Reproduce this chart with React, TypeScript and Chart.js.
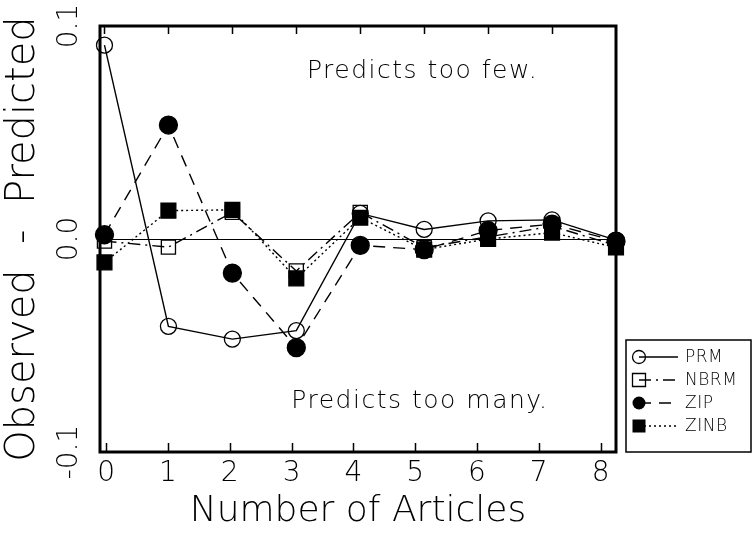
import React, { useEffect, useRef } from 'react';
import { Chart, registerables } from 'chart.js';

Chart.register(...registerables);

// ---- data ----
const articles = [0, 1, 2, 3, 4, 5, 6, 7, 8];
const tickLabels = ['0', '1', '2', '3', '4', '5', '6', '7', '8'];
const seriesNames = ['PRM', 'NBRM', 'ZIP', 'ZINB'];
const prm = [0.091, -0.041, -0.047, -0.043, 0.012, 0.0045, 0.0085, 0.009, -0.0005];
const nbrm = [-0.001, -0.0038, 0.0125, -0.015, 0.0125, -0.004, 0.001, 0.006, -0.003];
const zip = [0.002, 0.0535, -0.016, -0.051, -0.003, -0.005, 0.004, 0.007, -0.001];
const zinb = [-0.011, 0.0133, 0.0137, -0.0185, 0.01, -0.005, 0.0, 0.003, -0.004];
const yTicks = [-0.1, 0.0, 0.1];
const notes = ['Predicts too few.', 'Predicts too many.'];
const xTitle = 'Number of Articles';
const yTitle = 'Observed  -  Predicted';

const FAMILY = "'DejaVu Sans', 'Liberation Sans', sans-serif";
const WEIGHT = '200';

const framePlugin = {
  id: 'frame',
  beforeDatasetsDraw(chart: any) {
    const { ctx, chartArea: a, scales } = chart;
    ctx.save();
    ctx.strokeStyle = '#000';
    ctx.lineWidth = 3;
    ctx.strokeRect(a.left, a.top, a.right - a.left, a.bottom - a.top);
    // inner tick marks: bottom from the labelled axis, top from the data axis
    ctx.lineWidth = 1.5;
    ctx.beginPath();
    scales.x.ticks.forEach((t: any) => {
      const px = Math.round(scales.x.getPixelForValue(t.value)) + 0.5;
      if (px <= a.left + 3 || px >= a.right - 3) return;
      ctx.moveTo(px, a.bottom);
      ctx.lineTo(px, a.bottom - 9);
    });
    scales.xd.ticks.forEach((t: any) => {
      const px = Math.round(scales.xd.getPixelForValue(t.value)) + 0.5;
      if (px <= a.left + 3 || px >= a.right - 3) return;
      ctx.moveTo(px, a.top);
      ctx.lineTo(px, a.top + 8);
    });
    ctx.stroke();
    ctx.restore();
  },
};

const notesPlugin = {
  id: 'notes',
  afterDraw(chart: any) {
    const { ctx, chartArea: a } = chart;
    const w = a.right - a.left;
    ctx.save();
    ctx.fillStyle = '#000';
    ctx.font = `${WEIGHT} 25px ${FAMILY}`;
    (ctx as any).letterSpacing = '1.5px';
    ctx.textAlign = 'center';
    ctx.textBaseline = 'middle';
    ctx.fillText(notes[0], a.left + 0.625 * w, a.top + 45);
    ctx.fillText(notes[1], a.left + 0.62 * w, a.bottom - 51);
    ctx.restore();
  },
};

const legendPlugin = {
  id: 'boxLegend',
  afterDraw(chart: any) {
    const { ctx, chartArea: a } = chart;
    const bx = a.right + 10;
    const by = 340;
    const bw = 753 - bx - 2;
    const bh = 112;
    ctx.save();
    ctx.strokeStyle = '#000';
    ctx.lineWidth = 1.5;
    ctx.strokeRect(bx, by, bw, bh);
    chart.data.datasets.forEach((ds: any, i: number) => {
      const y = by + 17 + i * 23;
      const mx = bx + 13;
      ctx.lineWidth = 1.3;
      ctx.setLineDash(ds.borderDash || []);
      ctx.beginPath();
      ctx.moveTo(mx, y);
      ctx.lineTo(bx + 52, y);
      ctx.stroke();
      ctx.setLineDash([]);
      const r = 6.5;
      ctx.beginPath();
      if (ds.pointStyle === 'circle') ctx.arc(mx, y, r, 0, Math.PI * 2);
      else ctx.rect(mx - r, y - r, 2 * r, 2 * r);
      if (ds.pointBackgroundColor === '#000') {
        ctx.fillStyle = '#000';
        ctx.fill();
      } else {
        ctx.stroke();
      }
      ctx.fillStyle = '#000';
      ctx.font = `${WEIGHT} 17px ${FAMILY}`;
      (ctx as any).letterSpacing = '0.5px';
      ctx.textAlign = 'left';
      ctx.textBaseline = 'middle';
      ctx.fillText(ds.label, bx + 59, y + 1);
    });
    ctx.restore();
  },
};

function makeSet(label: string, values: number[], dash: number[], style: string, fill: string, radius: number, order: number) {
  return {
    label,
    data: values.map((v, i) => ({ x: articles[i], y: v })),
    xAxisID: 'xd',
    yAxisID: 'y',
    borderColor: '#000',
    borderWidth: 1.4,
    borderDash: dash,
    pointStyle: style,
    pointRadius: radius,
    pointBackgroundColor: fill,
    pointBorderColor: '#000',
    pointBorderWidth: 1.3,
    fill: false,
    tension: 0,
    clip: false,
    order,
  };
}

export default function App() {
  const ref = useRef<HTMLCanvasElement>(null);
  useEffect(() => {
    document.body.style.margin = '0';
    if (!ref.current) return;
    const tickFont = { family: FAMILY, size: 28, weight: WEIGHT };
    const chart = new Chart(ref.current, {
      type: 'line',
      data: {
        datasets: [
          makeSet(seriesNames[0], prm, [], 'circle', 'rgba(0,0,0,0)', 8, 1),
          makeSet(seriesNames[1], nbrm, [12, 5, 2, 5], 'rect', 'rgba(0,0,0,0)', 10, 3),
          makeSet(seriesNames[2], zip, [12, 8], 'circle', '#000', 9, 2),
          makeSet(seriesNames[3], zinb, [2, 3], 'rect', '#000', 10.5, 4),
        ],
      },
      options: {
        animation: false,
        responsive: false,
        layout: { padding: { top: 26, right: 137, left: 0, bottom: 0 } },
        plugins: { legend: { display: false }, tooltip: { enabled: false } },
        scales: {
          xd: {
            type: 'linear',
            position: 'top',
            min: -0.07,
            max: 8,
            display: false,
            afterBuildTicks: (s: any) => { s.ticks = articles.map((v) => ({ value: v })); },
          },
          x: {
            type: 'linear',
            position: 'bottom',
            min: -0.1,
            max: 8.25,
            afterBuildTicks: (s: any) => { s.ticks = articles.map((v) => ({ value: v })); },
            ticks: {
              callback: (v: any) => tickLabels[Math.round(v)],
              font: tickFont,
              color: '#000',
              padding: 5,
              maxRotation: 0,
              minRotation: 0,
              autoSkip: false,
            },
            grid: { drawOnChartArea: false, drawTicks: false },
            border: { display: false },
            title: { display: true, text: xTitle, color: '#000', font: { family: FAMILY, size: 36, weight: WEIGHT }, padding: 0 },
            afterFit: (s: any) => { s.height = 81; },
          },
          y: {
            type: 'linear',
            min: -0.1,
            max: 0.1,
            afterBuildTicks: (s: any) => { s.ticks = yTicks.map((v) => ({ value: v })); },
            ticks: {
              callback: (v: any) => Number(v).toFixed(1),
              font: tickFont,
              color: '#000',
              minRotation: 90,
              maxRotation: 90,
              crossAlign: 'center',
              padding: 3,
            },
            grid: {
              drawTicks: false,
              color: (c: any) => (c.tick && Math.abs(c.tick.value) < 1e-9 ? '#000' : 'rgba(0,0,0,0)'),
              lineWidth: 1,
            },
            border: { display: false },
            title: { display: true, text: yTitle, color: '#000', font: { family: FAMILY, size: 40, weight: WEIGHT }, padding: 0 },
            afterFit: (s: any) => { s.width = 100; },
          },
        },
      } as any,
      plugins: [framePlugin, notesPlugin, legendPlugin],
    });
    return () => chart.destroy();
  }, []);
  return (
    <div style={{ position: 'absolute', left: 0, top: 0, width: 753, height: 533, background: '#fff' }}>
      <canvas ref={ref} width={753} height={533} />
    </div>
  );
}
